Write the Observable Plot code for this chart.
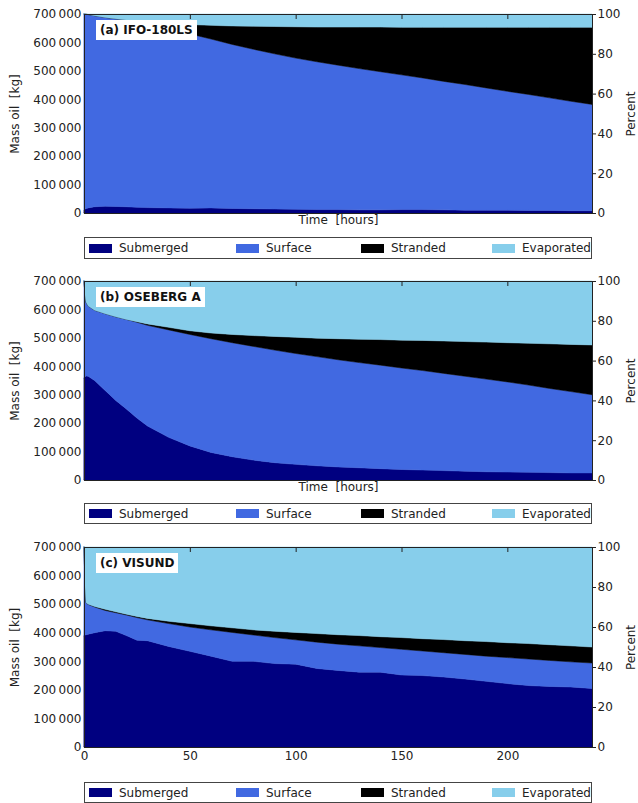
<!DOCTYPE html>
<html><head><meta charset="utf-8">
<script src="https://cdn.jsdelivr.net/npm/d3@7"></script>
<script src="https://cdn.jsdelivr.net/npm/@observablehq/plot@0.6"></script>
<style>
body{margin:0;background:#fff;font-family:"DejaVu Sans",sans-serif;}
#root{position:relative;width:638px;height:803px;overflow:hidden;background:#fff;}
.panel{position:absolute;left:0;}
.tag{position:absolute;background:#fff;font-weight:bold;font-size:12px;padding:0 4px;height:20px;line-height:20px;color:#111;white-space:nowrap;}
.legend{position:absolute;left:84px;width:508px;border:1px solid #444;box-sizing:border-box;font-size:12px;color:#222;background:#fff;}
.item{position:absolute;top:0;height:100%;display:flex;align-items:center;white-space:nowrap;}
.sw{width:23px;height:9px;margin-right:7px;}
</style></head><body><div id="root"></div>
<script>
// time axis (hours)
const hours = [0, 0.5, 1, 2, 5, 10, 15, 20, 25, 30, 40, 50, 60, 70, 80, 90, 100, 110, 120, 130, 140, 150, 160, 170, 180, 190, 200, 210, 220, 230, 240];
const seriesNames = ["Submerged", "Surface", "Stranded", "Evaporated"];
const seriesColors = ["#000080", "#4169E1", "#000000", "#87CEEB"];
const massTicks = [0, 100000, 200000, 300000, 400000, 500000, 600000, 700000];
const percentTicks = [0, 20, 40, 60, 80, 100];
const hourTicks = [0, 50, 100, 150, 200];
const totalMass = 700000;

// (a) IFO-180LS, values in tonnes (1000 kg)
const aSubmerged  = [10,14,16,18,22, 24,23,22,20,19, 18,17,18,16,15, 14,13,12,12,11, 11,12,12,11,10, 10,10,9,9,8, 8];
const aSurface    = [690,685.5,683,680,672, 664,660,657,655,649, 632,613,594,577,561, 546,532,520,508,497, 486,474,463,452,442, 430,418,408,396,385, 374];
const aStranded   = [0,0,0,0,0, 0,0,0,0,4, 17,33,48,65,81, 96,110,122,134,146, 157,167,178,190,201, 213,225,236,248,260, 271];
const aEvaporated = [0,0.5,1,2,6, 12,17,21,25,28, 33,37,40,42,43, 44,45,46,46,46, 46,47,47,47,47, 47,47,47,47,47, 47];

// (b) OSEBERG A
const bSubmerged  = [360,363,366,365,350, 315,280,250,218,190, 150,120,97,82,70, 61,55,50,46,43, 40,37,35,33,31, 29,28,27,26,25, 25];
const bSurface    = [340,287,259,247,247, 270,294,315,337,354, 378,392,400,401,400, 396,390,384,377,370, 364,357,350,342,334, 326,317,307,296,286, 275];
const bStranded   = [0,0,0,0,0, 0,0,0,2,5, 9,13,20,29,38, 48,57,65,74,82, 90,98,106,114,122, 130,138,147,157,166, 175];
const bEvaporated = [0,50,75,88,103, 115,126,135,143,151, 163,175,183,188,192, 195,198,201,203,205, 206,208,209,211,213, 215,217,219,221,223, 225];

// (c) VISUND
const cSubmerged  = [390,392,393,395,400, 407,405,390,374,372, 352,335,318,300,300, 292,290,275,268,262, 262,252,250,245,238, 230,222,215,212,210, 205];
const cSurface    = [310,168,112,104,90, 71,65,72,79,73, 80,85,92,101,92, 91,85,92,92,92, 86,90,86,85,86, 88,91,93,91,88, 89];
const cStranded   = [0,0,0,1,2, 4,3,3,4,5, 8,12,14,16,18, 22,26,30,33,36, 38,41,43,46,48, 51,52,54,55,56, 56];
const cEvaporated = [0,140,195,200,208, 218,227,235,243,250, 260,268,276,283,290, 295,299,303,307,310, 314,317,321,324,328, 331,335,338,342,346, 350];

const panels = [
  {tag: "(a) IFO-180LS", values: [aSubmerged, aSurface, aStranded, aEvaporated], top: 0, height: 236, mt: 14, mb: 23, xlabel: true, legendTop: 237, legendH: 22},
  {tag: "(b) OSEBERG A", values: [bSubmerged, bSurface, bStranded, bEvaporated], top: 262, height: 238, mt: 19, mb: 20, xlabel: true, legendTop: 503, legendH: 21},
  {tag: "(c) VISUND", values: [cSubmerged, cSurface, cStranded, cEvaporated], top: 528, height: 253, mt: 19, mb: 34, xlabel: false, legendTop: 782, legendH: 21}
];
const legendX = [4, 151, 276, 407];

const fmtMass = d => d3.format(",")(d).replace(/,/g, "\u2009");
const root = document.getElementById("root");

for (const p of panels) {
  const rows = [];
  hours.forEach((t, i) => {
    p.values.forEach((arr, k) => rows.push({t, series: seriesNames[k], mass: arr[i] * 1000}));
  });
  const marks = [
    Plot.areaY(rows, {x: "t", y: "mass", z: "series", fill: "series", stroke: "series", strokeWidth: 0.5}),
    Plot.frame({stroke: "#222", strokeWidth: 1}),
    Plot.axisY({anchor: "left", ticks: massTicks, tickFormat: fmtMass, tickSize: 0, tickPadding: 3,
      label: "Mass oil  [kg]", labelAnchor: "center", labelArrow: "none", labelOffset: 74}),
    Plot.axisY({anchor: "right", ticks: percentTicks.map(v => v / 100 * totalMass), tickFormat: d => String(Math.round(d / totalMass * 100)),
      tickSize: 3, tickPadding: 2, label: "Percent", labelAnchor: "center", labelArrow: "none", labelOffset: 42}),
    Plot.axisX({anchor: "top", ticks: hourTicks, tickSize: 4, dy: 4, tickFormat: () => "", label: null, stroke: "#222"})
  ];
  if (p.xlabel) {
    marks.push(Plot.axisX({anchor: "bottom", ticks: [], label: null}));
    marks.push(Plot.text(["Time\u00a0\u00a0[hours]"], {frameAnchor: "bottom", dy: 10, fill: "#222"}));
  } else {
    marks.push(Plot.axisX({anchor: "bottom", ticks: hourTicks, tickSize: 0, tickPadding: 4, label: null}));
  }
  const chart = Plot.plot({
    width: 638, height: p.height,
    marginLeft: 84, marginRight: 46, marginTop: p.mt, marginBottom: p.mb,
    x: {domain: [0, 240]},
    y: {domain: [0, totalMass]},
    color: {domain: seriesNames, range: seriesColors},
    style: {fontSize: "12px", fontFamily: "'DejaVu Sans', sans-serif", color: "#222", background: "white", overflow: "visible"},
    marks
  });
  const wrap = document.createElement("div");
  wrap.className = "panel";
  wrap.style.top = p.top + "px";
  wrap.appendChild(chart);
  root.appendChild(wrap);

  const tag = document.createElement("div");
  tag.className = "tag";
  tag.textContent = p.tag;
  tag.style.left = "96px";
  tag.style.top = (p.top + p.mt + 6) + "px";
  root.appendChild(tag);

  const lg = document.createElement("div");
  lg.className = "legend";
  lg.style.top = p.legendTop + "px";
  lg.style.height = p.legendH + "px";
  seriesNames.forEach((name, k) => {
    const it = document.createElement("div");
    it.className = "item";
    it.style.left = legendX[k] + "px";
    const sw = document.createElement("span");
    sw.className = "sw";
    sw.style.background = seriesColors[k];
    const tx = document.createElement("span");
    tx.textContent = name;
    it.appendChild(sw); it.appendChild(tx);
    lg.appendChild(it);
  });
  root.appendChild(lg);
}
</script></body></html>
